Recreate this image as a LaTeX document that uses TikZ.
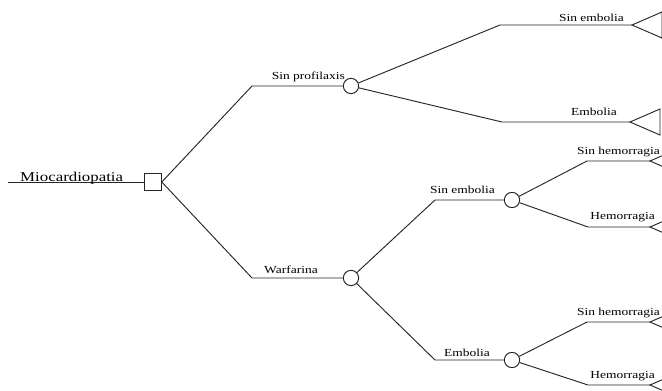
\documentclass[tikz,border=0pt]{standalone}
\usepackage{fontspec}
\newfontfamily\treefont{Liberation Serif}[FakeStretch=1.25]
\usetikzlibrary{positioning, calc}

\begin{document}
\begin{tikzpicture}[x=0.03cm, y=-0.03cm, font=\treefont\fontsize{9.2}{11}\selectfont,
    branch/.style={draw=black!85, line width=0.8pt},
    decision/.style={draw=black!85, line width=0.8pt, fill=white, minimum size=0.5cm, inner sep=0pt},
    chance/.style={draw=black!85, circle, line width=0.8pt, fill=white, minimum size=0.46cm, inner sep=0pt},
    lbl/.style={inner sep=0pt, anchor=base east}]
\useasboundingbox (0,0) rectangle (662,391);
\clip (0,0) rectangle (662,391);

% decision and chance nodes
\node[decision] (dec) at (153,182) {};
\node[chance] (sinp) at (351,86) {};
\node[chance] (warf) at (351,278) {};
\node[chance] (sine) at (512,200) {};
\node[chance] (emb) at (512,360) {};

% corners of the branches
\coordinate (start) at (8,182);
\coordinate (k1) at (252,86);
\coordinate (k2) at (252,278);
\coordinate (k3) at (500,25);
\coordinate (k4) at (502,122);
\coordinate (k5) at (435,200);
\coordinate (k6) at (435,360);
\coordinate (k7) at (587,161);
\coordinate (k8) at (588,227);
\coordinate (k9) at (587,322);
\coordinate (k10) at (588,385);

% terminal nodes
\coordinate (t1) at (632,25);
\coordinate (t2) at (630,122);
\coordinate (t3) at (650,161);
\coordinate (t4) at (650,227);
\coordinate (t5) at (650,322);
\coordinate (t6) at (650,385);

\draw[branch] (start) -- (dec);
\draw[branch] (dec.east) -- (k1) -- (sinp);
\draw[branch] (dec.east) -- (k2) -- (warf);
\draw[branch] (sinp) -- (k3) -- (t1);
\draw[branch] (sinp) -- (k4) -- (t2);
\draw[branch] (warf) -- (k5) -- (sine);
\draw[branch] (warf) -- (k6) -- (emb);
\draw[branch] (sine) -- (k7) -- (t3);
\draw[branch] (sine) -- (k8) -- (t4);
\draw[branch] (emb) -- (k9) -- (t5);
\draw[branch] (emb) -- (k10) -- (t6);

\foreach \t in {t1,t2,t3,t4,t5,t6}
  \draw[branch] (\t) -- ++(30,-13) -- ++(0,26) -- cycle;

% labels
\node[inner sep=0pt, anchor=base west, font=\treefont\fontsize{11.5}{13}\selectfont] (lmio) at (20,181) {Miocardiopatia};
\node[lbl] (lsinp) at (345,80) {Sin profilaxis};
\node[lbl] (lwarf) at (318,273) {Warfarina};
\node[lbl] (lsine1) at (624,21) {Sin embolia};
\node[lbl] (lemb1) at (617,115) {Embolia};
\node[lbl] (lsine2) at (495,193) {Sin embolia};
\node[lbl] (lemb2) at (490,356) {Embolia};
\node[lbl] (lsinh1) at (660,154) {Sin hemorragia};
\node[lbl] (lhem1) at (655,219) {Hemorragia};
\node[lbl] (lsinh2) at (660,315) {Sin hemorragia};
\node[lbl] (lhem2) at (655,378) {Hemorragia};
\end{tikzpicture}
\end{document}
